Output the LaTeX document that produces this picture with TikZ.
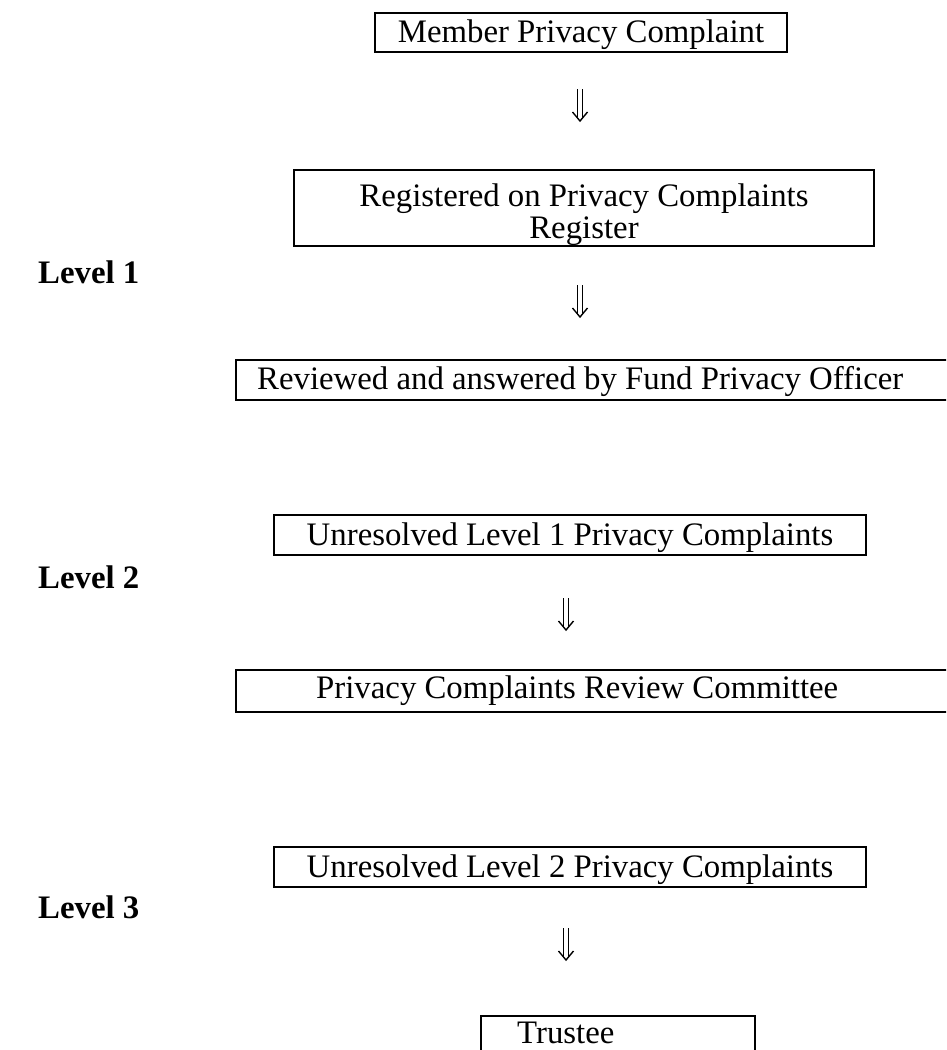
\documentclass[tikz,border=0pt]{standalone}
\usepackage{fontspec}
\setmainfont{Liberation Serif}
\begin{document}
\begin{tikzpicture}[x=1pt,y=-1pt,
  every node/.style={font=\fontsize{32.8}{32}\selectfont, inner sep=0pt},
  box/.style={draw, line width=2pt, inner sep=0pt, text height=25pt, text depth=5pt},
  lvl/.style={anchor=west, font=\fontsize{32.8}{32}\selectfont\bfseries},
  edge/.style={line width=2pt},
  dnarrow/.pic={\draw[line width=1.4pt] (-2.5,-16) -- (-2.5,12) (2.5,-16) -- (2.5,12);
                \draw[line width=1.4pt, line join=miter] (-7.5,7) -- (0,16) -- (7.5,7);}]
\useasboundingbox (0,0) rectangle (946,1050);
\clip (0,0) rectangle (946,1050);
% Level 1
\node[box, minimum width=412, minimum height=39.5] (mpc) at (581,32.5) {Member Privacy Complaint};
\coordinate (ar1) at (580,105);
\pic at (ar1) {dnarrow};
\node[box, minimum width=580, minimum height=76] (reg) at (584,208) {};
\node[align=center, anchor=north] (regt) at (584,184) {Registered on Privacy Complaints\\Register};
\node[lvl] (l1) at (38,272) {Level 1};
\coordinate (ar2) at (580,301);
\pic at (ar2) {dnarrow};
\node[anchor=west] (rev) at (257,381) {Reviewed and answered by Fund Privacy Officer};
\draw[edge] (990,360) -- (236,360) -- (236,400) -- (990,400);
% Level 2
\node[box, minimum width=592, minimum height=40] (ur1) at (570,535) {Unresolved Level 1 Privacy Complaints};
\node[lvl] (l2) at (38,577) {Level 2};
\coordinate (ar3) at (566,614);
\pic at (ar3) {dnarrow};
\node[anchor=west] (pcrc) at (316,691) {Privacy Complaints Review Committee};
\draw[edge] (990,670) -- (236,670) -- (236,712) -- (990,712);
% Level 3
\node[box, minimum width=592, minimum height=40] (ur2) at (570,867) {Unresolved Level 2 Privacy Complaints};
\node[lvl] (l3) at (38,907) {Level 3};
\coordinate (ar4) at (566,944);
\pic at (ar4) {dnarrow};
\node[anchor=west] (tru) at (517,1033) {Trustee};
\draw[edge] (481,1070) -- (481,1016) -- (755,1016) -- (755,1070);
\end{tikzpicture}
\end{document}
